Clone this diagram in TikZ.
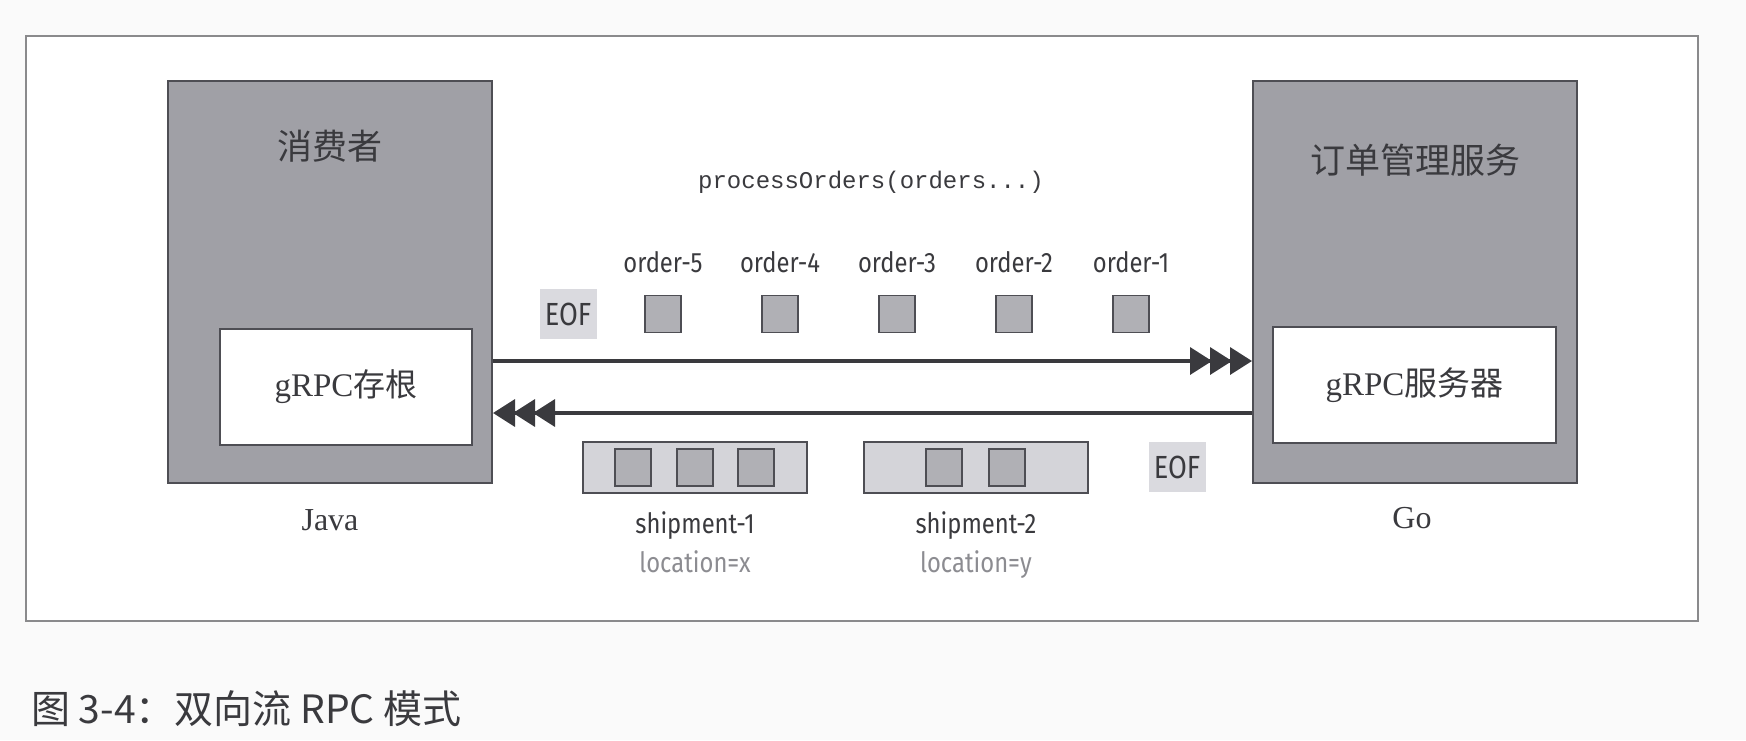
\documentclass[tikz,border=0pt]{standalone}
\usepackage{fontspec}
\setmainfont{Liberation Serif}
\setmonofont{Liberation Mono}
\newfontfamily\songfont{Noto Sans CJK SC}
\newfontfamily\heifont{Noto Sans CJK SC}
\newfontfamily\condfont[FakeStretch=0.85]{Fira Sans}
\usepackage{tikz}
\usetikzlibrary{arrows.meta,positioning}

\definecolor{boxgray}{RGB}{160,160,166}
\definecolor{edgegray}{RGB}{78,78,84}
\definecolor{msggray}{RGB}{176,176,181}
\definecolor{trayfill}{RGB}{212,212,217}
\definecolor{eofgray}{RGB}{218,218,223}
\definecolor{inkgray}{RGB}{58,58,62}
\definecolor{notegray}{RGB}{140,140,145}
\definecolor{framegray}{RGB}{138,138,140}
\definecolor{paper}{RGB}{250,250,250}

\begin{document}
\begin{tikzpicture}[x=1pt,y=-1pt,
  side/.style={rectangle, draw=edgegray, fill=boxgray, line width=2pt, minimum width=324pt, minimum height=402pt, inner sep=0pt},
  inbox/.style={rectangle, draw=edgegray, fill=white, line width=2pt, minimum height=116pt, inner sep=0pt, text=inkgray, font=\fontsize{33}{38}\selectfont},
  title/.style={text=inkgray, font=\songfont\fontsize{35}{40}\selectfont, inner sep=0pt},
  lang/.style={text=inkgray, font=\fontsize{32}{36}\selectfont, inner sep=0pt},
  msg/.style={rectangle, draw=edgegray, fill=msggray, line width=1.8pt, minimum width=36pt, minimum height=37pt, inner sep=0pt},
  tray/.style={rectangle, draw=edgegray, fill=trayfill, line width=1.8pt, minimum width=224pt, minimum height=51pt, inner sep=0pt},
  lbl/.style={text=inkgray, font=\condfont\fontsize{28}{32}\selectfont, inner sep=0pt},
  note/.style={text=notegray, font=\condfont\fontsize{28}{32}\selectfont, inner sep=0pt},
  eof/.style={rectangle, fill=eofgray, minimum width=57pt, minimum height=50pt, inner sep=0pt, text=inkgray, font=\condfont\fontsize{32}{36}\selectfont},
  code/.style={text=inkgray, font=\ttfamily\fontsize{24}{30}\selectfont, inner sep=0pt},
  stream/.style={draw=inkgray, line width=3.5pt, -{Triangle[length=22pt,width=27pt,sep=-2pt] Triangle[length=22pt,width=27pt,sep=-2pt] Triangle[length=22pt,width=27pt]}}]
  \fill[paper] (0,0) rectangle (1746,740);
  \draw[framegray, line width=1.5pt, fill=white] (26,36) rectangle (1698,621);

  \node[side] (consumer) at (330,282) {};
  \node[side] (service) at (1415,282) {};
  \node[inbox, minimum width=252pt] (stub) at (346,387) {gRPC{\songfont\fontsize{32}{38}\selectfont 存根}};
  \node[inbox, minimum width=283pt] (server) at (1414.5,385) {gRPC{\songfont\fontsize{33}{38}\selectfont 服务器}};
  \node[title] (consumername) at (330,146) {消费者};
  \node[title] (servicename) at (1415,160) {订单管理服务};
  \node[lang] (java) at (330,520) {Java};
  \node[lang] (go) at (1412,518) {Go};

  \node[code] (call) at (871,182) {processOrders(orders...)};
  \foreach \n [count=\k from 0] in {5,4,3,2,1} {
    \node[msg] (o\n) at ({663+117*\k},314) {};
    \node[lbl, above=22pt of o\n] (o\n name) {order-\n};
  }
  \node[eof] (eofout) at (568,314) {EOF};

  \draw[stream] ([yshift=-79pt]consumer.east) -- ([yshift=-79pt]service.west);
  \draw[stream] ([yshift=-131pt]service.west) -- ([yshift=-131pt]consumer.east);

  \node[tray] (ship1) at (695,467.5) {};
  \node[tray] (ship2) at (976,467.5) {};
  \foreach \d [count=\k] in {-62,0,61}
    \node[msg] (s1m\k) at ([xshift=\d pt]ship1.center) {};
  \foreach \d [count=\k] in {-32,31}
    \node[msg] (s2m\k) at ([xshift=\d pt]ship2.center) {};
  \node[eof] (eofback) at (1177,467) {EOF};

  \node[lbl, below=18pt of ship1] (ship1name) {shipment-1};
  \node[note, below=10pt of ship1name] (ship1loc) {location=x};
  \node[lbl, below=18pt of ship2] (ship2name) {shipment-2};
  \node[note, below=10pt of ship2name] (ship2loc) {location=y};

  \node[anchor=west, text=inkgray, font=\heifont\fontsize{39}{44}\selectfont, inner sep=0pt] (caption) at (31,709) {图 3-4：双向流 RPC 模式};
\end{tikzpicture}
\end{document}
